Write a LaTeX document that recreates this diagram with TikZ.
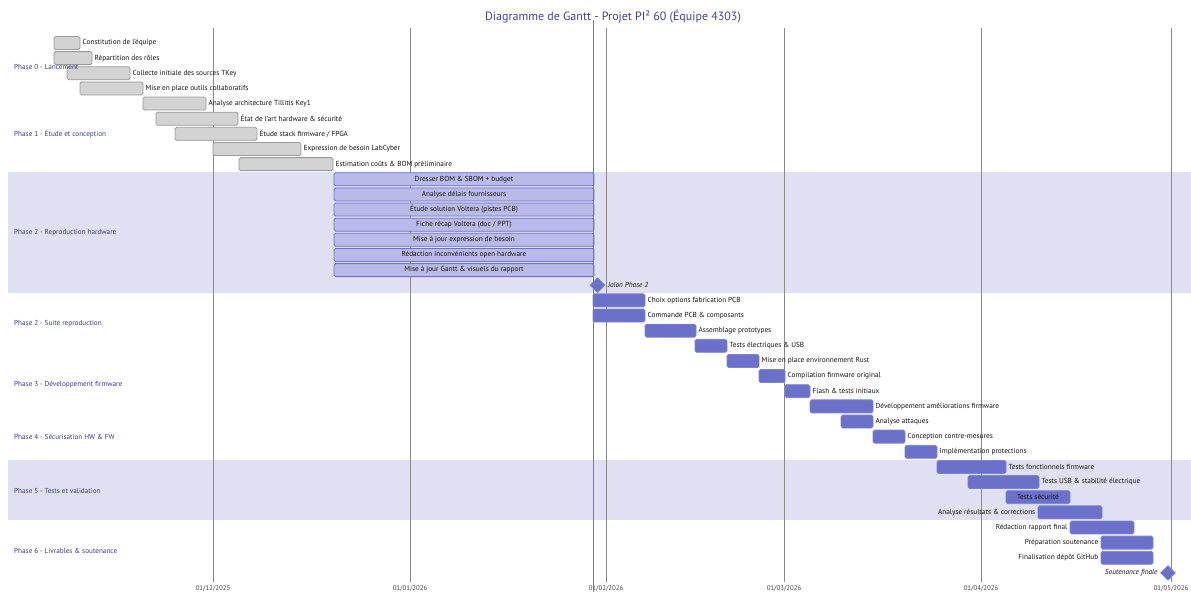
\documentclass[tikz,border=0pt]{standalone}
\usepackage{fontspec}
\setmainfont{PT Sans}
\usetikzlibrary{shapes.geometric}
\definecolor{bandcol}{HTML}{E0E0F3}
\definecolor{donefill}{HTML}{D3D3D3}
\definecolor{donedraw}{HTML}{9A9A9A}
\definecolor{actfill}{HTML}{B8BBEA}
\definecolor{actdraw}{HTML}{6C70D0}
\definecolor{futfill}{HTML}{6B70C8}
\definecolor{futdraw}{HTML}{7C82D8}
\definecolor{titlecol}{HTML}{44449A}
\definecolor{phasecol}{HTML}{3A3A90}
\definecolor{gridcol}{HTML}{8A8A8A}
\definecolor{todaycol}{HTML}{E8504A}
\definecolor{axiscol}{HTML}{444444}
\tikzset{
  barbase/.style={line width=0.8pt, rounded corners=1.6pt, minimum height=13pt, inner sep=0pt, outer sep=0pt},
  done/.style={barbase, draw=donedraw, fill=donefill},
  active/.style={barbase, draw=actdraw, fill=actfill},
  future/.style={barbase, draw=futdraw, fill=futfill},
  tasklbl/.style={font=\fontsize{7.3}{8}\selectfont, text=black!92, inner sep=2.5pt},
  phaselbl/.style={font=\fontsize{7.2}{8}\selectfont, text=phasecol, anchor=west, inner sep=0pt},
  axislbl/.style={font=\fontsize{6.8}{7}\selectfont, text=axiscol, inner sep=0pt},
  gridline/.style={draw=gridcol, line width=0.6pt},
  band/.style={fill=bandcol, draw=none},
  mile/.style={diamond, fill=futfill, draw=futdraw, line width=0.6pt, minimum size=15pt, inner sep=0pt, aspect=1},
  milelbl/.style={font=\fontsize{7.3}{8}\selectfont\itshape, text=black!92, inner sep=2.5pt}
}
% #1 name, #2 row, #3 x1, #4 x2, #5 style, #6 label
\newcommand{\gtaskR}[6]{%
  \pgfmathsetmacro\yc{43+15.14*#2}%
  \pgfmathsetmacro\bw{#4-#3}%
  \node[#5, minimum width=\bw pt, anchor=west] (#1) at (#3,\yc) {};
  \node[tasklbl, anchor=west] (#1-t) at (#1.east) {#6};}
\newcommand{\gtaskL}[6]{%
  \pgfmathsetmacro\yc{43+15.14*#2}%
  \pgfmathsetmacro\bw{#4-#3}%
  \node[#5, minimum width=\bw pt, anchor=west] (#1) at (#3,\yc) {};
  \node[tasklbl, anchor=east] (#1-t) at (#1.west) {#6};}
\newcommand{\gtaskC}[6]{%
  \pgfmathsetmacro\yc{43+15.14*#2}%
  \pgfmathsetmacro\bw{#4-#3}%
  \node[#5, minimum width=\bw pt, anchor=west] (#1) at (#3,\yc) {};
  \node[tasklbl] (#1-t) at (#1.center) {#6};}
\begin{document}
\begin{tikzpicture}[x=1pt,y=-1pt]
\useasboundingbox (0,0) rectangle (1191,592);
\fill[white] (0,0) rectangle (1191,592);
% section bands
\path[band] (8,171.8) rectangle (1191,292.6);
\path[band] (8,459.6) rectangle (1191,519.9);
% grid
\foreach \gx/\gl [count=\i] in {213/01\slash 12\slash 2025,410/01\slash 01\slash 2026,606/01\slash 02\slash 2026,784/01\slash 03\slash 2026,981/01\slash 04\slash 2026,1171/01\slash 05\slash 2026}{
  \draw[gridline] (\gx,28) coordinate (g\i-top) -- (\gx,582) coordinate (g\i-bot);
  \node[axislbl] (ax\i) at (\gx,588.5) {\gl};
}
% title
\node[font=\fontsize{12}{14}\selectfont, text=titlecol] (title) at (613,17) {Diagramme de Gantt - Projet PI² 60 (Équipe 4303)};
% Phase 0
\gtaskR{t0}{0}{54}{80}{done}{Constitution de l'équipe}
\gtaskR{t1}{1}{54}{92}{done}{Répartition des rôles}
\gtaskR{t2}{2}{67}{130}{done}{Collecte initiale des sources TKey}
\gtaskR{t3}{3}{80}{143}{done}{Mise en place outils collaboratifs}
% Phase 1
\gtaskR{t4}{4}{143}{206}{done}{Analyse architecture Tillitis Key1}
\gtaskR{t5}{5}{156}{238}{done}{État de l'art hardware \& sécurité}
\gtaskR{t6}{6}{175}{257}{done}{Étude stack firmware / FPGA}
\gtaskR{t7}{7}{213}{301}{done}{Expression de besoin LabCyber}
\gtaskR{t8}{8}{239}{333}{done}{Estimation coûts \& BOM préliminaire}
% Phase 2
\gtaskC{t9}{9}{334}{594}{active}{Dresser BOM \& SBOM + budget}
\gtaskC{t10}{10}{334}{594}{active}{Analyse délais fournisseurs}
\gtaskC{t11}{11}{334}{594}{active}{Étude solution Voltera (pistes PCB)}
\gtaskC{t12}{12}{334}{594}{active}{Fiche récap Voltera (doc / PPT)}
\gtaskC{t13}{13}{334}{594}{active}{Mise à jour expression de besoin}
\gtaskC{t14}{14}{334}{594}{active}{Rédaction inconvénients open hardware}
\gtaskC{t15}{15}{334}{594}{active}{Mise à jour Gantt \& visuels du rapport}
\node[mile] (m1) at (597.5,{43+15.14*16}) {};
\node[milelbl, anchor=west] (m1-t) at (m1.east) {Jalon Phase 2};
% Phase 2 suite
\gtaskR{t17}{17}{593}{645}{future}{Choix options fabrication PCB}
\gtaskR{t18}{18}{593}{645}{future}{Commande PCB \& composants}
\gtaskR{t19}{19}{645}{696}{future}{Assemblage prototypes}
\gtaskR{t20}{20}{695}{727}{future}{Tests électriques \& USB}
% Phase 3
\gtaskR{t21}{21}{727}{759}{future}{Mise en place environnement Rust}
\gtaskR{t22}{22}{759}{785}{future}{Compilation firmware original}
\gtaskR{t23}{23}{785}{810}{future}{Flash \& tests initiaux}
\gtaskR{t24}{24}{810}{873}{future}{Développement améliorations firmware}
% Phase 4
\gtaskR{t25}{25}{841}{873}{future}{Analyse attaques}
\gtaskR{t26}{26}{873}{905}{future}{Conception contre-mesures}
\gtaskR{t27}{27}{905}{937}{future}{Implémentation protections}
% Phase 5
\gtaskR{t28}{28}{937}{1006}{future}{Tests fonctionnels firmware}
\gtaskR{t29}{29}{968}{1039}{future}{Tests USB \& stabilité électrique}
\gtaskC{t30}{30}{1006}{1070}{future}{Tests sécurité}
\gtaskL{t31}{31}{1038}{1102}{future}{Analyse résultats \& corrections}
% Phase 6
\gtaskL{t32}{32}{1070}{1134}{future}{Rédaction rapport final}
\gtaskL{t33}{33}{1101}{1153}{future}{Préparation soutenance}
\gtaskL{t34}{34}{1101}{1153}{future}{Finalisation dépôt GitHub}
\node[mile] (m2) at (1168,{43+15.14*35}) {};
\node[milelbl, anchor=east] (m2-t) at (m2.west) {Soutenance finale};
% phase labels
\node[phaselbl] (p0) at (14,67) {Phase 0 - Lancement};
\node[phaselbl] (p1) at (14,134) {Phase 1 - Étude et conception};
\node[phaselbl] (p2) at (14,233) {Phase 2 - Reproduction hardware};
\node[phaselbl] (p2b) at (14,324) {Phase 2 - Suite reproduction};
\node[phaselbl] (p3) at (14,385) {Phase 3 - Développement firmware};
\node[phaselbl] (p4) at (14,437) {Phase 4 - Sécurisation HW \& FW};
\node[phaselbl] (p5) at (14,491) {Phase 5 - Tests et validation};
\node[phaselbl] (p6) at (14,551) {Phase 6 - Livrables \& soutenance};
% today line
\draw[todaycol, line width=1pt] (593,20) coordinate (today-top) -- (593,592) coordinate (today-bot);
\end{tikzpicture}
\end{document}
